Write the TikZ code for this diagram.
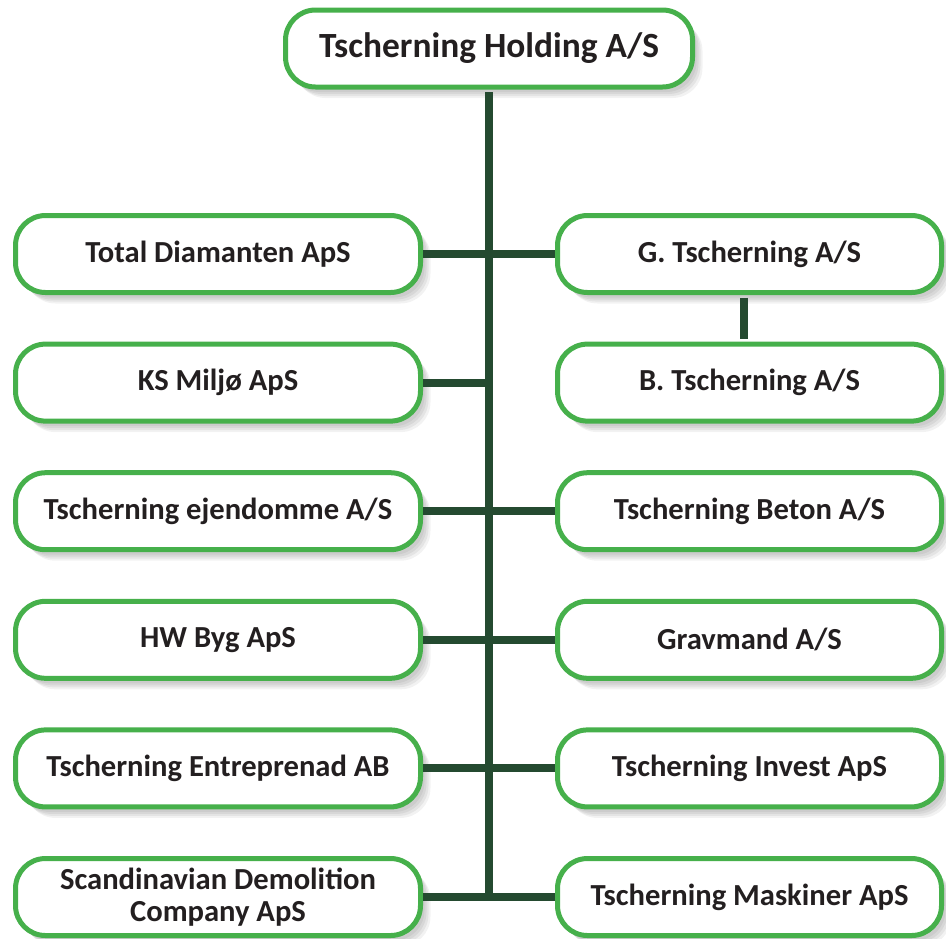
\documentclass[tikz,border=0pt]{standalone}
\usepackage{fontspec}
\setmainfont{Carlito}
\usepackage{xcolor}
\usepackage{tikz}
\usetikzlibrary{positioning}
\usetikzlibrary{shadows}

\definecolor{boxgreen}{HTML}{46B04B}
\definecolor{linegreen}{HTML}{244A30}
\definecolor{txtgray}{HTML}{231F20}

\begin{document}
\begin{tikzpicture}[node distance=64.3pt,
  softshadow/.style={
    drop shadow={shadow xshift=2pt,shadow yshift=-2.5pt,opacity=.13},
    drop shadow={shadow xshift=3pt,shadow yshift=-3.5pt,opacity=.13},
    drop shadow={shadow xshift=4pt,shadow yshift=-4.5pt,opacity=.12},
    drop shadow={shadow xshift=5pt,shadow yshift=-5.5pt,opacity=.1}},
  company/.style={draw=boxgreen,line width=2.5pt,fill=white,rounded corners=15pt,
    minimum width=202.5pt,minimum height=38.5pt,align=center,text=txtgray,
    font=\bfseries\fontsize{15.3pt}{16pt}\selectfont,softshadow},
  rcompany/.style={company,minimum width=192pt},
  link/.style={draw=linegreen,line width=4pt}]
\useasboundingbox (0,0) rectangle (473pt,-469pt);

\node[company,minimum width=203.5pt,font=\bfseries\fontsize{17.7pt}{20pt}\selectfont]
                          (hold) at (244.5pt,-24.25pt) {Tscherning Holding A/S};

% left column
\node[company] (td) at (109pt,-127pt) {Total Diamanten ApS};
\node[company] (ks) [below of=td] {KS Miljø ApS};
\node[company] (te) [below of=ks] {Tscherning ejendomme A/S};
\node[company] (hw) [below of=te] {HW Byg ApS};
\node[company] (tea) [below of=hw] {Tscherning Entreprenad AB};
\node[company] (sd) [below of=tea] {Scandinavian Demolition\\Company ApS};

% right column
\node[rcompany] (gt) at (374.75pt,-127pt) {G. Tscherning A/S};
\node[rcompany] (bt) [below of=gt] {B. Tscherning A/S};
\node[rcompany] (tb) [below of=bt] {Tscherning Beton A/S};
\node[rcompany] (gm) [below of=tb] {Gravmand A/S};
\node[rcompany] (ti) [below of=gm] {Tscherning Invest ApS};
\node[rcompany] (tm) [below of=ti] {Tscherning Maskiner ApS};

\coordinate (spineend) at (hold.south |- sd.east);

\path[link] ([yshift=-1.25pt]hold.south) -- (spineend)
      (td.east)  -- (td.east -| spineend)
      (ks.east)  -- (ks.east -| spineend)
      (te.east)  -- (te.east -| spineend)
      (hw.east)  -- (hw.east -| spineend)
      (tea.east) -- (tea.east -| spineend)
      (sd.east)  -- (spineend)
      (gt.west)  -- (gt.west -| spineend)
      (tb.west)  -- (tb.west -| spineend)
      (gm.west)  -- (gm.west -| spineend)
      (ti.west)  -- (ti.west -| spineend)
      (tm.west)  -- (spineend)
      ([xshift=-2.75pt,yshift=-1.25pt]gt.south) -- ([xshift=-2.75pt,yshift=1.25pt]bt.north);

\end{tikzpicture}
\end{document}
